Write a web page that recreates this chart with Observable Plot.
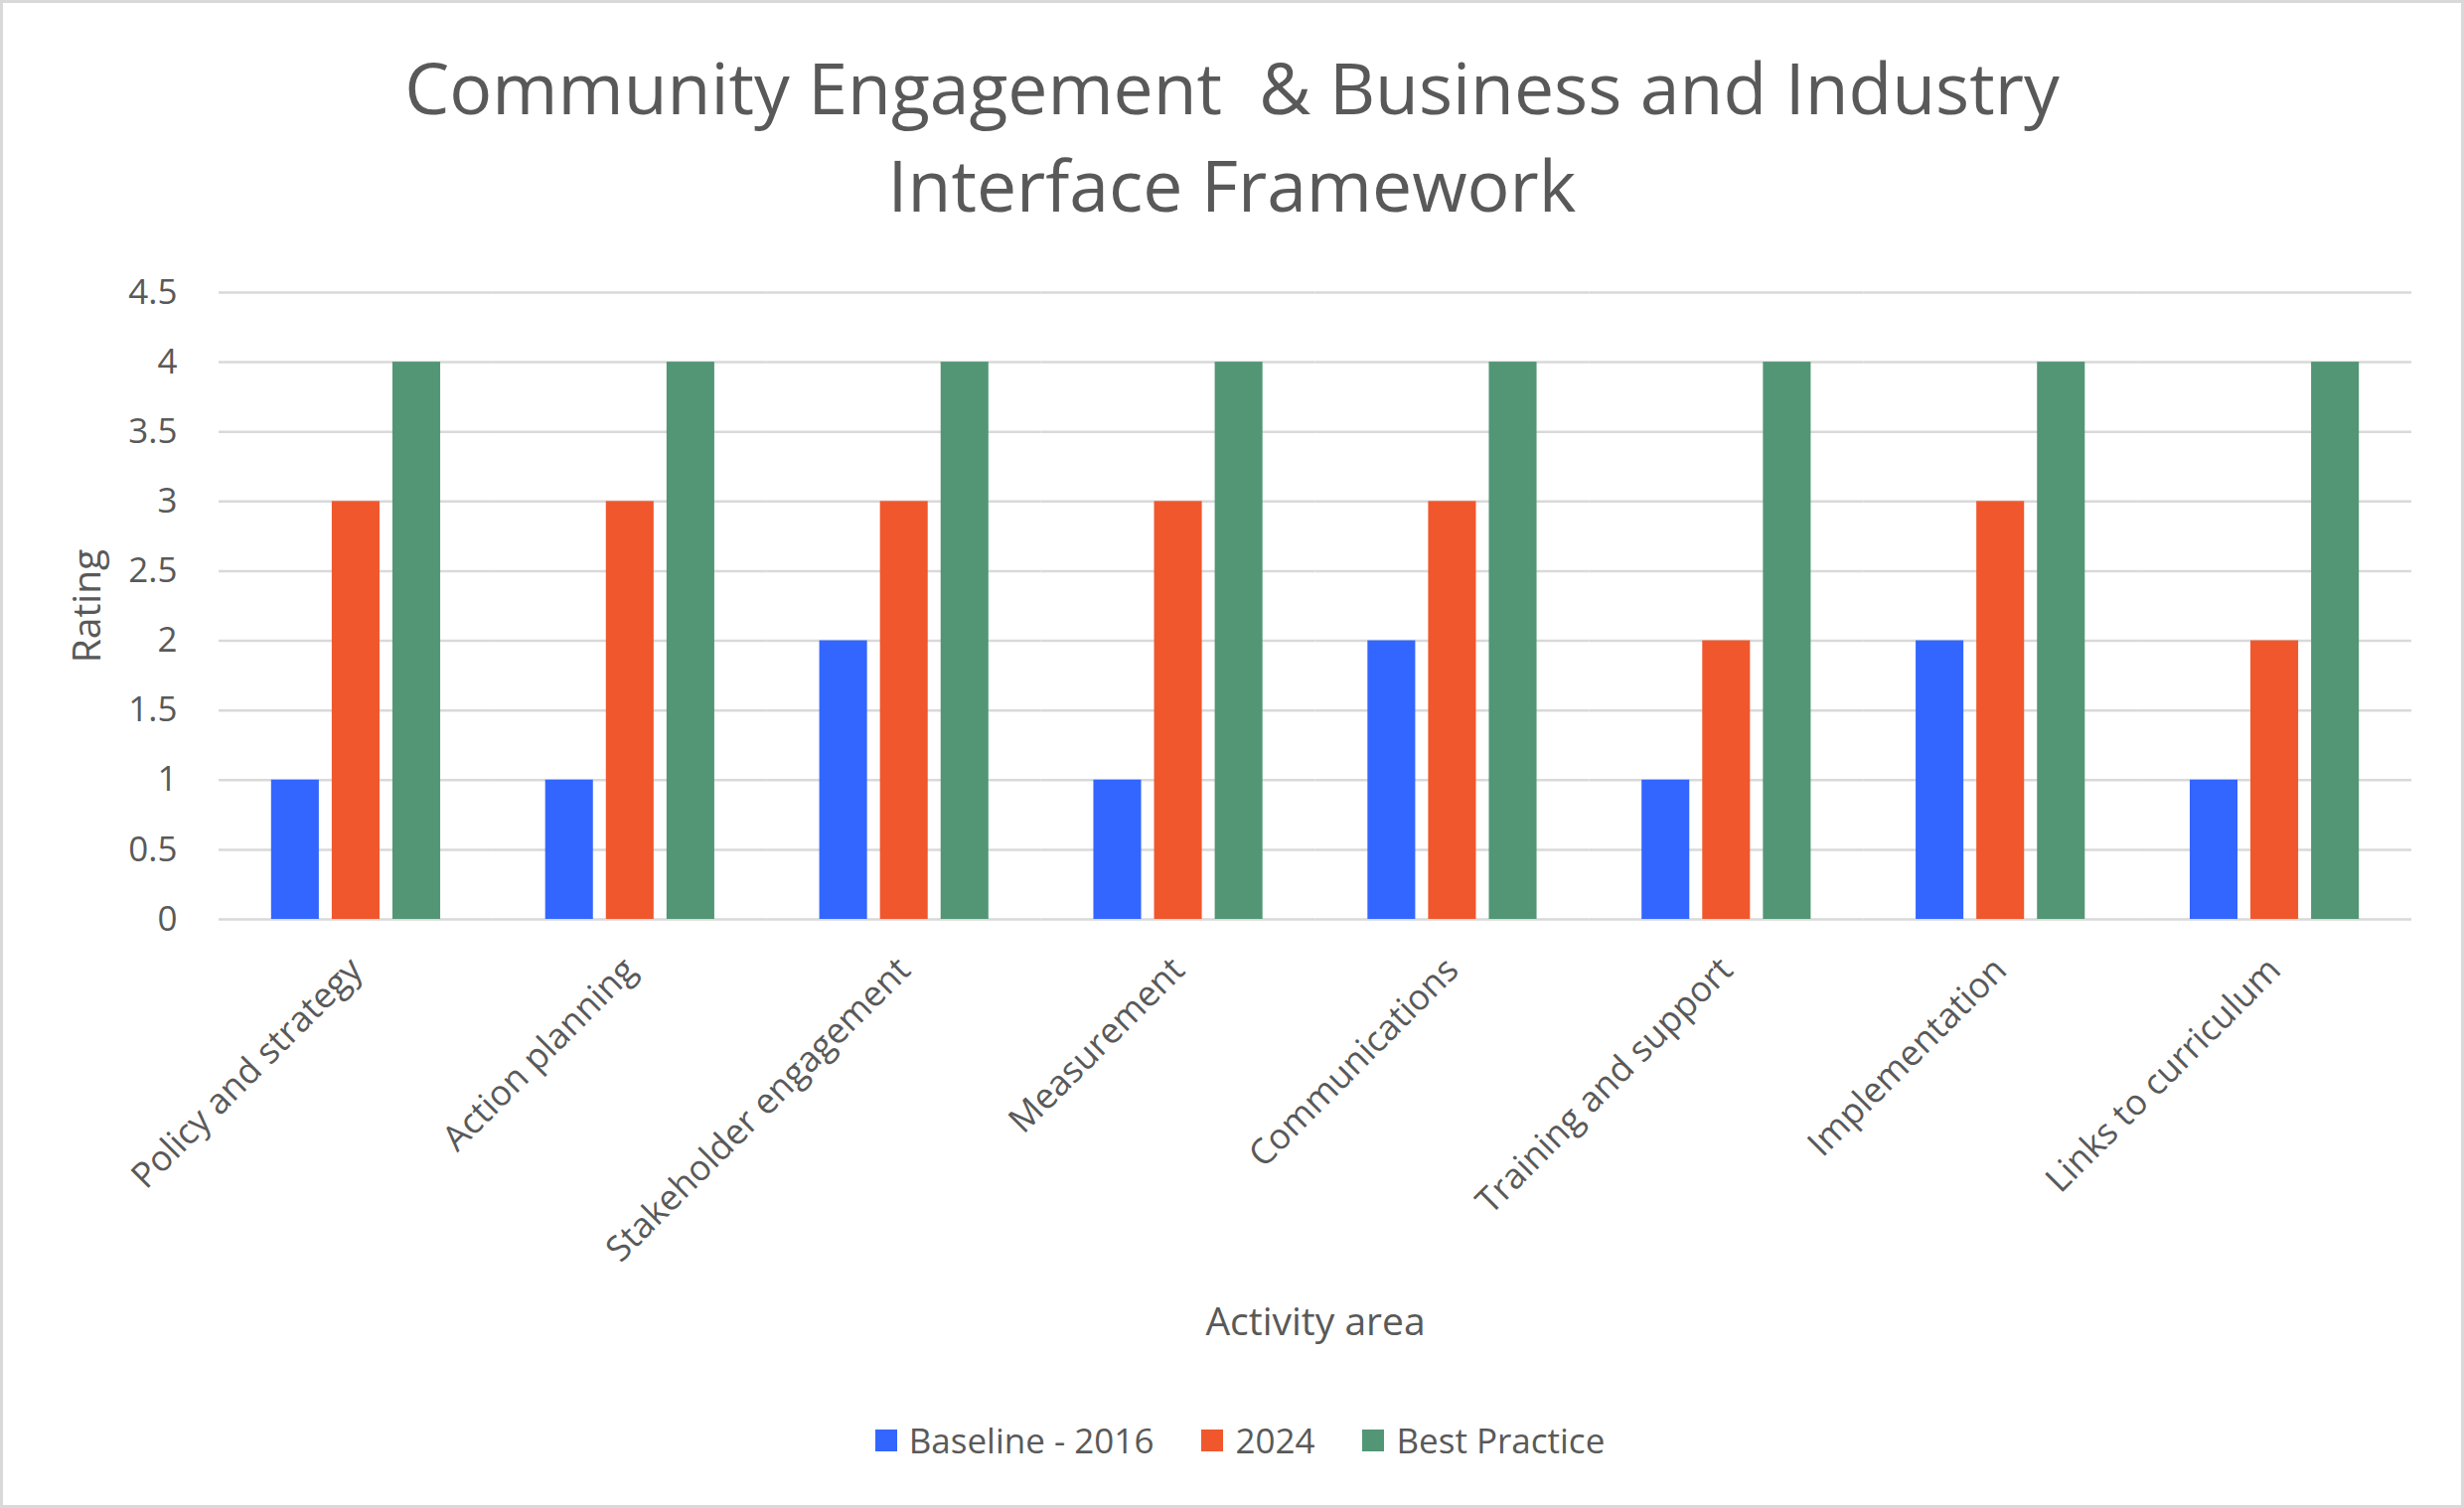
<!DOCTYPE html>
<html>
<head>
<meta charset="utf-8">
<script src="https://cdn.jsdelivr.net/npm/d3@7"></script>
<script src="https://cdn.jsdelivr.net/npm/@observablehq/plot@0.6"></script>
<style>
  html, body { margin: 0; padding: 0; background: #fff; }
  #frame {
    position: relative; width: 2480px; height: 1518px; background: #fff; overflow: hidden;
    font-family: "Open Sans", "Noto Sans", sans-serif; color: #595959;
  }
  #border {
    position: absolute; left: 0; top: 0; width: 2480px; height: 1518px; box-sizing: border-box;
    border: 3px solid #d9d9d9; pointer-events: none;
  }
  #title {
    position: absolute; left: 0; width: 2480px; top: 39px; text-align: center;
    font-size: 71.5px; line-height: 98px; white-space: pre; color: #595959;
  }
  #chart { position: absolute; left: 0; top: 260px; }
  #legend {
    position: absolute; left: 8px; width: 2480px; top: 1426px; display: flex;
    justify-content: center; align-items: center; font-size: 35px; line-height: 48px; color: #595959;
  }
  .item { display: flex; align-items: center; margin: 0 24px; }
  .sw { width: 22px; height: 22px; margin-right: 12px; }
</style>
</head>
<body>
<div id="frame">
  <div id="title"></div>
  <div id="chart"></div>
  <div id="legend"></div>
  <div id="border"></div>
</div>
<script>
const titleLines = ["Community Engagement  & Business and Industry", "Interface Framework"];
const categories = ["Policy and strategy", "Action planning", "Stakeholder engagement", "Measurement",
  "Communications", "Training and support", "Implementation", "Links to curriculum"];
const series = ["Baseline - 2016", "2024", "Best Practice"];
const baseline2016 = [1, 1, 2, 1, 2, 1, 2, 1];
const values2024 = [3, 3, 3, 3, 3, 2, 3, 2];
const bestPractice = [4, 4, 4, 4, 4, 4, 4, 4];
const colors = ["#3366ff", "#f0572d", "#529675"];
const yTicks = [0, 0.5, 1, 1.5, 2, 2.5, 3, 3.5, 4, 4.5];
const xTitle = "Activity area";
const yTitle = "Rating";

const seriesValues = [baseline2016, values2024, bestPractice];
const data = categories.flatMap((c, i) => series.map((s, j) => ({category: c, series: s, value: seriesValues[j][i]})));

document.getElementById("title").textContent = titleLines.join("\n");

const chart = Plot.plot({
  width: 2480,
  height: 1140,
  marginLeft: 220,
  marginRight: 53,
  marginTop: 34,
  marginBottom: 475,
  style: {fontFamily: "'Open Sans', 'Noto Sans', sans-serif", fontSize: "35px", color: "#595959", background: "transparent", overflow: "visible"},
  fx: {domain: categories, padding: 0, round: false},
  x: {domain: series, paddingInner: 0.213, paddingOuter: 0.865, axis: null, round: false},
  y: {domain: [0, 4.5]},
  color: {domain: series, range: colors},
  marks: [
    Plot.ruleY(yTicks, {stroke: "#d9d9d9", strokeWidth: 2.5}),
    Plot.barY(data, {fx: "category", x: "series", y: "value", fill: "series"}),
    Plot.axisY({ticks: yTicks, tickSize: 0, tickPadding: 42, tickFormat: d => String(d),
      fontSize: 35,
      label: yTitle, labelAnchor: "center", labelArrow: "none", labelOffset: 147, fill: "#595959"}),
    Plot.axisFx({anchor: "bottom", tickRotate: -45, tickSize: 0, tickPadding: 45,
      label: xTitle, labelAnchor: "center", labelArrow: "none", labelOffset: 418, fill: "#595959", fontSize: 35.5})
  ]
});
document.getElementById("chart").appendChild(chart);

// enlarge axis titles
chart.querySelectorAll("g[aria-label='y-axis label'] text, g[aria-label='fx-axis label'] text").forEach(t => t.setAttribute("font-size", 39));

const legend = document.getElementById("legend");
series.forEach((s, i) => {
  const item = document.createElement("div");
  item.className = "item";
  const sw = document.createElement("div");
  sw.className = "sw";
  sw.style.background = colors[i];
  const t = document.createElement("span");
  t.textContent = s;
  item.appendChild(sw);
  item.appendChild(t);
  legend.appendChild(item);
});
</script>
</body>
</html>
